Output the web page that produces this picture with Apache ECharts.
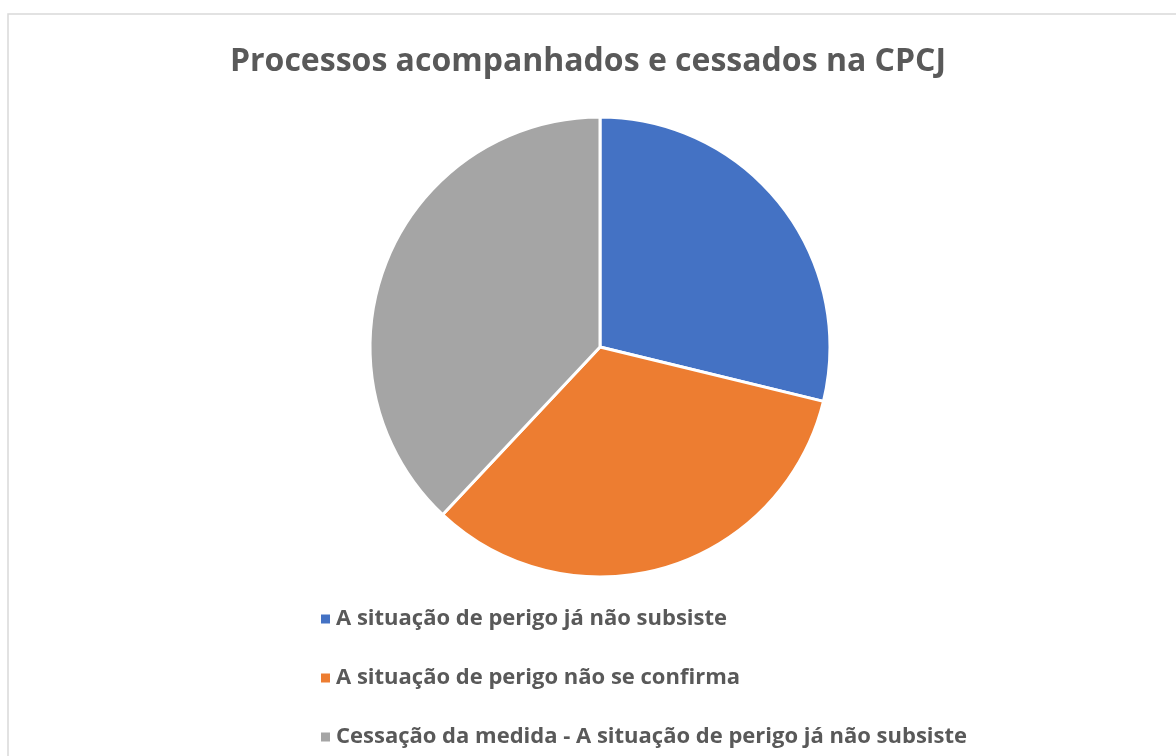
<!DOCTYPE html>
<html>
<head>
<meta charset="utf-8">
<script src="https://cdn.jsdelivr.net/npm/echarts@6/dist/echarts.min.js"></script>
<style>
html, body { margin: 0; padding: 0; background: #fff; }
#graph { width: 1176px; height: 756px; }
</style>
</head>
<body>
<div id="graph"></div>
<script>
let categories = [
	'A situação de perigo já não subsiste',
	'A situação de perigo não se confirma',
	'Cessação da medida - A situação de perigo já não subsiste'
];
let values = [28.8, 33.2, 38.0];
let colors = ['#4472c4', '#ed7d31', '#a5a5a5'];

let fontName = '"Open Sans", "Noto Sans", sans-serif';

var myChart = echarts.init(document.getElementById('graph'), null, {
	width: 1176,
	height: 756,
});

let pieData = categories.map(function (name, i) {
	return { name: name, value: values[i], itemStyle: { color: colors[i] } };
});

option = {
	backgroundColor: '#ffffff',
	animation: false,
	title: {
		text: 'Processos acompanhados e cessados na CPCJ',
		left: 'center',
		top: 41,
		textStyle: { fontFamily: fontName, fontSize: 32, fontWeight: 'bold', color: '#595959' }
	},
	legend: {
		orient: 'vertical',
		left: 314,
		top: 603,
		itemGap: 37,
		itemWidth: 11,
		itemHeight: 11,
		icon: 'rect',
		data: categories,
		textStyle: { fontFamily: fontName, fontSize: 22, fontWeight: 'bold', color: '#595959' }
	},
	graphic: [{
		type: 'rect',
		shape: { x: 8, y: 14, width: 1200, height: 800 },
		style: { fill: 'none', stroke: '#d9d9d9', lineWidth: 1.5 },
		silent: true
	}],
	series: [{
		type: 'pie',
		center: [600, 347],
		radius: 230,
		startAngle: 90,
		clockwise: true,
		label: { show: false },
		labelLine: { show: false },
		itemStyle: { borderColor: '#ffffff', borderWidth: 3 },
		data: pieData
	}]
};

myChart.setOption(option, true);
</script>
</body>
</html>
